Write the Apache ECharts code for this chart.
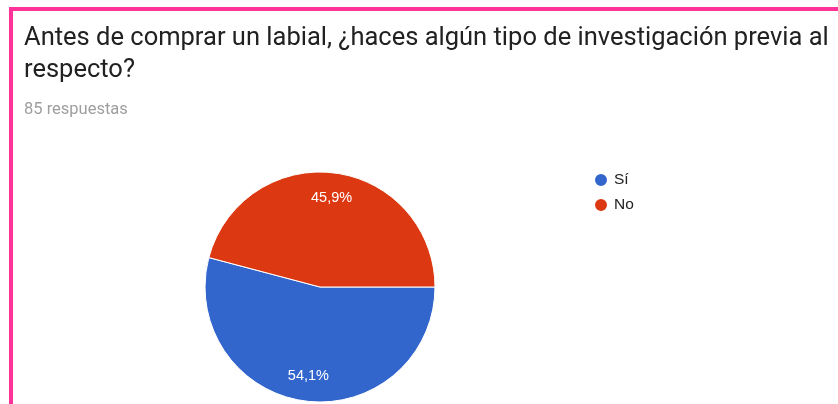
<!DOCTYPE html>
<html>
<head>
<meta charset="utf-8">
<script src="https://cdn.jsdelivr.net/npm/echarts@6/dist/echarts.min.js"></script>
<style>
    html, body { margin: 0; padding: 0; background: #fff; }
    #chart { width: 838px; height: 404px; }
</style>
</head>
<body>
<div id="chart"></div>
<script>
    const titleText = 'Antes de comprar un labial, ¿haces algún tipo de investigación previa al\nrespecto?'
    const subText = '85 respuestas'
    const answers = ['Sí', 'No']
    const counts = [46, 39]
    const colors = ['#3366cc', '#dc3912']

    let myChart = echarts.init(document.getElementById('chart'))
    const pieData = answers.map((name, i) => ({ name: name, value: counts[i] }))
    const total = counts.reduce((a, b) => a + b, 0)

    let option = {
        animation: false,
        color: colors,
        title: {
            text: titleText,
            subtext: subText,
            left: 19,
            top: 18,
            itemGap: 14,
            textStyle: { fontFamily: 'Roboto', fontSize: 25.5, fontWeight: 'normal', color: '#212121', lineHeight: 32 },
            subtextStyle: { fontFamily: 'Roboto', fontSize: 16.5, color: '#9e9e9e' }
        },
        legend: {
            data: answers,
            orient: 'vertical',
            left: 588,
            top: 167,
            icon: 'circle',
            itemWidth: 14,
            itemHeight: 14,
            itemGap: 9,
            textStyle: { fontFamily: 'Liberation Sans', fontSize: 15.5, color: '#222', padding: [0, 0, 0, 1] }
        },
        graphic: [
            { type: 'rect', shape: { x: 9, y: 7, width: 829, height: 4 }, style: { fill: '#ff3399' } },
            { type: 'rect', shape: { x: 9, y: 7, width: 4, height: 397 }, style: { fill: '#ff3399' } }
        ],
        series: [
            {
                type: 'pie',
                center: [320, 287],
                radius: 115,
                startAngle: 0,
                clockwise: true,
                silent: true,
                label: { show: false },
                labelLine: { show: false },
                itemStyle: { borderColor: '#fff', borderWidth: 1 },
                data: pieData
            },
            {
                type: 'pie',
                center: [320, 287],
                radius: [59, 115],
                startAngle: 0,
                clockwise: true,
                silent: true,
                itemStyle: { color: 'rgba(0,0,0,0)' },
                label: {
                    position: 'inside',
                    fontFamily: 'Liberation Sans',
                    fontSize: 14.5,
                    color: '#fff',
                    formatter: p => (p.value / total * 100).toFixed(1).replace('.', ',') + '%'
                },
                labelLine: { show: false },
                data: pieData
            }
        ]
    }
    myChart.setOption(option)
</script>
</body>
</html>
